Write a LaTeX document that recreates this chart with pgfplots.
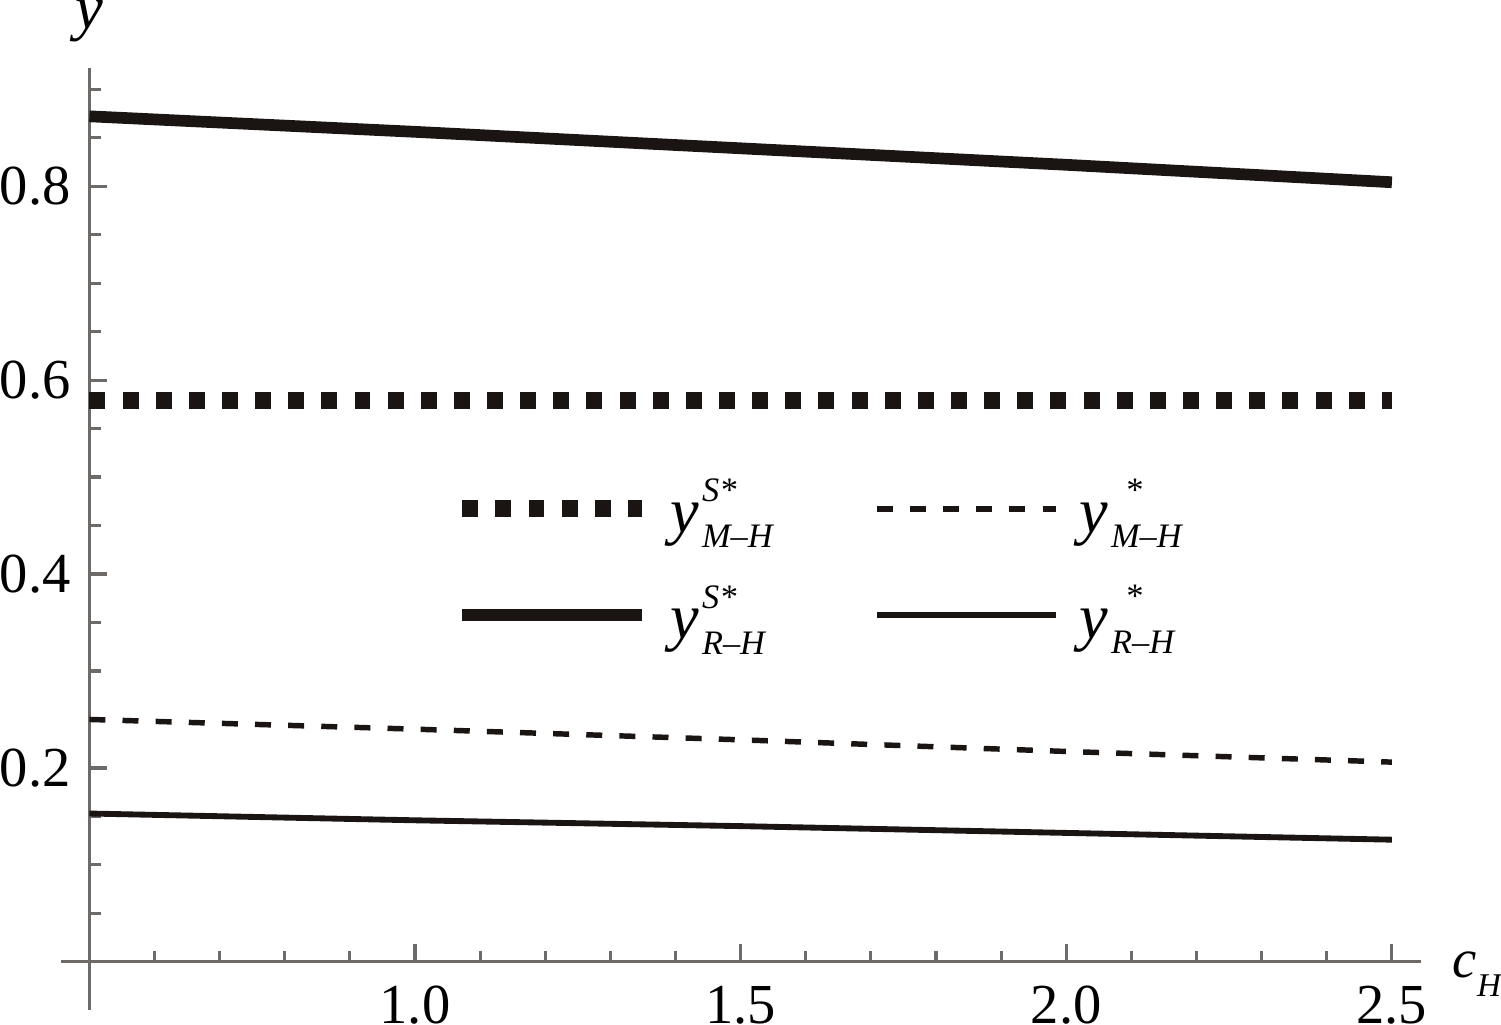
\documentclass[border=0pt]{standalone}
\usepackage{pgfplots}
\pgfplotsset{compat=1.18}
\usepackage{fontspec}
\setmainfont{Liberation Serif}

\definecolor{axgray}{RGB}{110,106,104}
\definecolor{ink}{RGB}{26,21,18}

% y with stacked super/subscript, Mathematica style
\newcommand{\ylab}[2]{%
  {\fontsize{16.5}{16.5}\selectfont\itshape y}\hspace{0.8pt}%
  \rlap{\raisebox{7.9pt}{\fontsize{8.8}{8.8}\selectfont\itshape #1}}%
  \raisebox{-3.9pt}{\fontsize{8.8}{8.8}\selectfont\itshape #2}}

\begin{document}
\begin{tikzpicture}
\begin{axis}[
    scale only axis, width=341.5pt, height=229.2pt,
    xmin=0.5, xmax=2.5445, ymin=0, ymax=0.9216,
    axis lines*=left,
    axis line style={axgray, line width=0.8pt},
    tick style={axgray, line width=0.8pt},
    tick align=inside,
    major tick length=4.6pt, minor tick length=2.9pt,
    xtick={1,1.5,2,2.5}, xticklabels={1.0,1.5,2.0,2.5},
    minor xtick={0.6,0.7,0.8,0.9,1.1,1.2,1.3,1.4,1.6,1.7,1.8,1.9,2.1,2.2,2.3,2.4},
    ytick={0.2,0.4,0.6,0.8}, yticklabels={0.2,0.4,0.6,0.8},
    minor ytick={0.05,0.1,0.15,0.25,0.3,0.35,0.45,0.5,0.55,0.65,0.7,0.75,0.85,0.9},
    ticklabel style={font=\fontsize{14.5}{14.5}\selectfont, inner sep=0pt},
    xticklabel style={yshift=-6.0pt},
    yticklabel style={xshift=-4.6pt},
    clip=false,
    legend columns=2,
    legend cell align=left,
    legend style={draw=none, fill=none, at={(0.273,0.541)}, anchor=north west,
        inner sep=0pt, row sep=12pt, nodes={inner sep=0pt},
        /tikz/every odd column/.append style={column sep=5.2pt},
        /tikz/every even column/.append style={column sep=26pt}},
    legend image code/.code={\draw[#1] (0pt,0pt) -- (46pt,0pt);},
]
\addplot[ink, line width=4.4pt, dash pattern=on 4.1pt off 4.4pt]
  coordinates {(0.5,0.579) (2.5,0.579)};
\addlegendentry{\ylab{S*}{M–H}}
\addplot[ink, line width=1.4pt, dash pattern=on 4.1pt off 4.4pt]
  coordinates {(0.5,0.250) (1.0,0.240) (1.5,0.229) (2.0,0.217) (2.5,0.206)};
\addlegendentry{\ylab{\hspace{3.5pt}*}{M–H}}
\addplot[ink, line width=3pt]
  coordinates {(0.5,0.872) (1.0,0.856) (1.5,0.839) (2.0,0.822) (2.5,0.804)};
\addlegendentry{\ylab{S*}{R–H}}
\addplot[ink, line width=1.5pt]
  coordinates {(0.5,0.153) (1.0,0.146) (1.5,0.140) (2.0,0.133) (2.5,0.126)};
\addlegendentry{\ylab{\hspace{3.5pt}*}{R–H}}

% axis overhang past the origin
\draw[axgray, line width=0.8pt] (axis cs:0.457,0) -- (axis cs:0.5,0);
\draw[axgray, line width=0.8pt] (axis cs:0.5,0) -- (axis cs:0.5,-0.0495);

\node[anchor=south, inner sep=0pt, yshift=6.5pt] at (axis cs:0.5,0.9216)
  {\fontsize{16}{16}\selectfont\itshape y};
\node[anchor=base west, inner sep=0pt, xshift=8pt, yshift=-4.1pt] at (axis cs:2.5445,0)
  {\fontsize{14}{14}\selectfont\itshape c\raisebox{-4.9pt}{\fontsize{8.5}{8.5}\selectfont H}};
\end{axis}
\end{tikzpicture}
\end{document}
